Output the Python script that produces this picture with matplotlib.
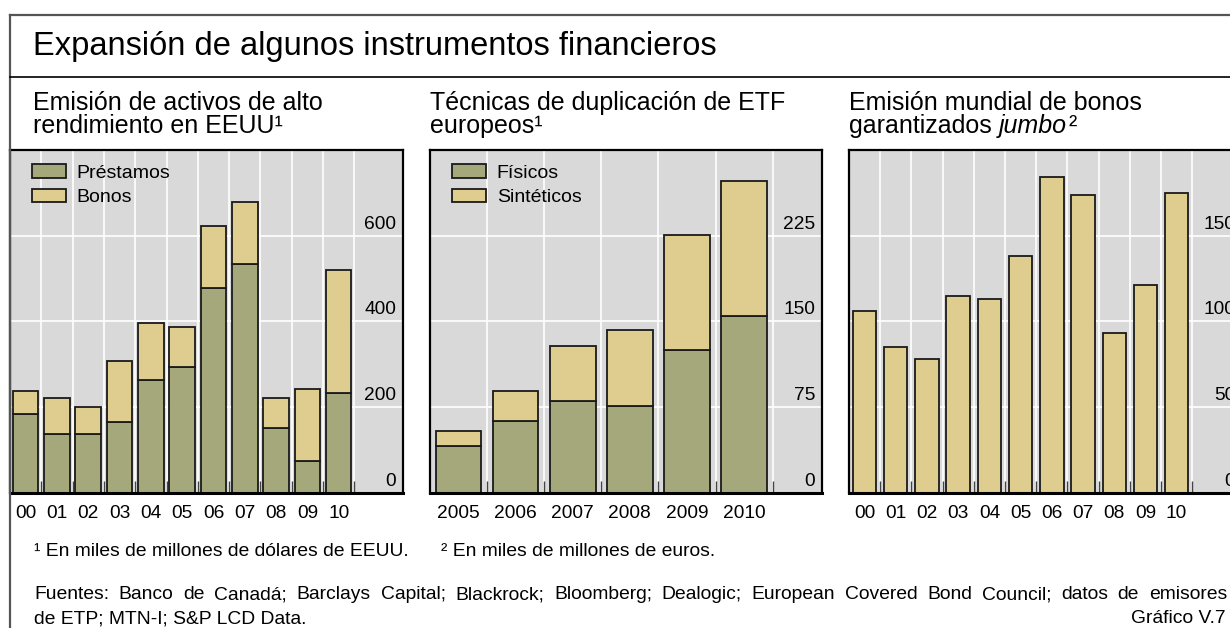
import matplotlib
matplotlib.use("Agg")
import matplotlib.pyplot as plt
from matplotlib.lines import Line2D
from matplotlib.transforms import offset_copy

# ---------------------------------------------------------------- data
us_years = ["00", "01", "02", "03", "04", "05", "06", "07", "08", "09", "10"]
prestamos = [183, 137, 137, 164, 264, 294, 479, 534, 151, 74, 232]
bonos = [55, 84, 63, 143, 133, 93, 143, 144, 69, 167, 287]
us_yticks = [0, 200, 400, 600]

etf_years = ["2005", "2006", "2007", "2008", "2009", "2010"]
fisicos = [41, 63, 80, 76, 125, 155]
sinteticos = [13, 26, 48, 66, 101, 118]
etf_yticks = [0, 75, 150, 225]

jumbo_years = ["00", "01", "02", "03", "04", "05", "06", "07", "08", "09", "10"]
jumbo = [106, 85, 78, 115, 113, 138, 184, 174, 93, 121, 175]
jumbo_yticks = [0, 50, 100, 150]

# ---------------------------------------------------------------- style
GREEN = "#a5a87a"
TAN = "#dfcd8f"
BG = "#d9d9d9"
EDGE = "#1a1a1a"
FS_TICK = 13.8
FS_SUB = 18
FS_NOTE = 13.9

plt.rcParams["font.family"] = ["Liberation Sans", "DejaVu Sans"]

W, H = 1230, 628
fig = plt.figure(figsize=(W / 100, H / 100), dpi=100)


def fx(px):
    return px / W


def fy(py):
    return 1 - py / H


def panel(left, right, top=150, bottom=492.7):
    return fig.add_axes([fx(left), fy(bottom), (right - left) / W, (bottom - top) / H])


def style(ax, n, slot_px, width_px, ymax, yticks):
    ax.set_facecolor(BG)
    ax.set_xlim(-0.5, -0.5 + width_px / slot_px)
    ax.set_ylim(0, ymax)
    ax.set_xticks(range(n))
    ax.set_xticks([i + 0.5 for i in range(n)], minor=True)
    ax.set_yticks(yticks)
    ax.set_yticklabels([])
    ax.tick_params(axis="y", length=0)
    ax.tick_params(axis="x", which="major", length=0, pad=9, labelsize=FS_TICK)
    ax.tick_params(axis="x", which="minor", direction="in", length=9, width=1, color="#444444")
    ax.grid(axis="y", which="major", color="white", lw=1.2)
    ax.grid(axis="x", which="minor", color="white", lw=1.2)
    ax.set_axisbelow(True)
    for s in ax.spines.values():
        s.set_linewidth(1.6)
        s.set_color("black")
    ax.spines["bottom"].set_linewidth(2.2)
    # value labels sit just above each gridline, inside the right edge
    tr = offset_copy(ax.get_yaxis_transform(), fig=fig, x=0, y=3, units="dots")
    for t in yticks:
        ax.text(1 - 7 / width_px, t, str(t), transform=tr, ha="right", va="bottom",
                fontsize=FS_TICK, clip_on=False)


def add_legend(ax, handles, labels, width_px, height_px):
    ax.legend(handles, labels, loc="upper left",
              bbox_to_anchor=(22 / width_px, 1 - 14 / height_px),
              frameon=False, fontsize=14, handlelength=1.75, handleheight=0.72,
              handletextpad=0.55, labelspacing=0.35, borderpad=0, borderaxespad=0)


# ---------------------------------------------------------------- panel 1
ax1 = panel(10, 403)
style(ax1, len(us_years), 31.3, 393, 800, us_yticks)
x1 = range(len(us_years))
b1 = ax1.bar(x1, prestamos, width=0.82, color=GREEN, edgecolor=EDGE, lw=1.3)
b2 = ax1.bar(x1, bonos, width=0.82, bottom=prestamos, color=TAN, edgecolor=EDGE, lw=1.3)
ax1.set_xticklabels(us_years)
add_legend(ax1, [b1, b2], ["Préstamos", "Bonos"], 393, 342.7)

# ---------------------------------------------------------------- panel 2
ax2 = panel(430, 822)
style(ax2, len(etf_years), 57.1, 392, 300, etf_yticks)
x2 = range(len(etf_years))
c1 = ax2.bar(x2, fisicos, width=0.8, color=GREEN, edgecolor=EDGE, lw=1.3)
c2 = ax2.bar(x2, sinteticos, width=0.8, bottom=fisicos, color=TAN, edgecolor=EDGE, lw=1.3)
ax2.set_xticklabels(etf_years)
add_legend(ax2, [c1, c2], ["Físicos", "Sintéticos"], 392, 342.7)

# ---------------------------------------------------------------- panel 3
ax3 = panel(849, 1242)
style(ax3, len(jumbo_years), 31.2, 393, 200, jumbo_yticks)
ax3.bar(range(len(jumbo_years)), jumbo, width=0.75, color=TAN, edgecolor=EDGE, lw=1.3)
ax3.set_xticklabels(jumbo_years)

# ---------------------------------------------------------------- frame and titles
fig.add_artist(Line2D([fx(10), 1], [fy(15), fy(15)], color="#555555", lw=1.6))
fig.add_artist(Line2D([fx(10), fx(10)], [fy(15), 0], color="#555555", lw=1.6))
fig.add_artist(Line2D([fx(10), 1], [fy(76.5), fy(76.5)], color="black", lw=1.2))

fig.text(fx(33), fy(47), "Expansión de algunos instrumentos financieros",
         fontsize=23.5, va="center")

fig.text(fx(33), fy(110), "Emisión de activos de alto", fontsize=FS_SUB, va="baseline")
fig.text(fx(33), fy(133), "rendimiento en EEUU¹", fontsize=FS_SUB, va="baseline")
fig.text(fx(430), fy(110), "Técnicas de duplicación de ETF", fontsize=FS_SUB, va="baseline")
fig.text(fx(430), fy(133), "europeos¹", fontsize=FS_SUB, va="baseline")
fig.text(fx(849), fy(110), "Emisión mundial de bonos", fontsize=FS_SUB, va="baseline")
t_a = fig.text(fx(849), fy(133), "garantizados", fontsize=FS_SUB, va="baseline")
t_b = ax3.annotate("jumbo", xy=(1, 0), xycoords=t_a, xytext=(5, 0),
                   textcoords="offset points", fontsize=FS_SUB, fontstyle="italic",
                   va="bottom", ha="left", annotation_clip=False)
ax3.annotate("²", xy=(1, 0), xycoords=t_b, xytext=(1, 0),
             textcoords="offset points", fontsize=FS_SUB, va="bottom", ha="left",
             annotation_clip=False)

# ---------------------------------------------------------------- notes
fig.text(fx(34), fy(556), "¹ En miles de millones de dólares de EEUU.", fontsize=FS_NOTE, va="baseline")
fig.text(fx(441), fy(556), "² En miles de millones de euros.", fontsize=FS_NOTE, va="baseline")


def justified(line, x0, x1, y, fs):
    # spread the words so the line runs from x0 to x1
    words = line.split(" ")
    texts = [fig.text(0, fy(y), w, fontsize=fs, va="bottom") for w in words]
    r = fig.canvas.get_renderer()
    widths = [t.get_window_extent(r).width for t in texts]
    gap = (x1 - x0 - sum(widths)) / (len(words) - 1)
    x = x0
    for t, w in zip(texts, widths):
        t.set_x(fx(x))
        x += w + gap


justified("Fuentes: Banco de Canadá; Barclays Capital; Blackrock; Bloomberg; Dealogic; "
          "European Covered Bond Council; datos de emisores", 34, 1227, 603, FS_NOTE)
fig.text(fx(34), fy(623), "de ETP; MTN-I; S&P LCD Data.", fontsize=FS_NOTE, va="baseline")
fig.text(fx(1226), fy(623), "Gráfico V.7", fontsize=FS_NOTE, va="baseline", ha="right")

fig.savefig("out.png", dpi=100)
